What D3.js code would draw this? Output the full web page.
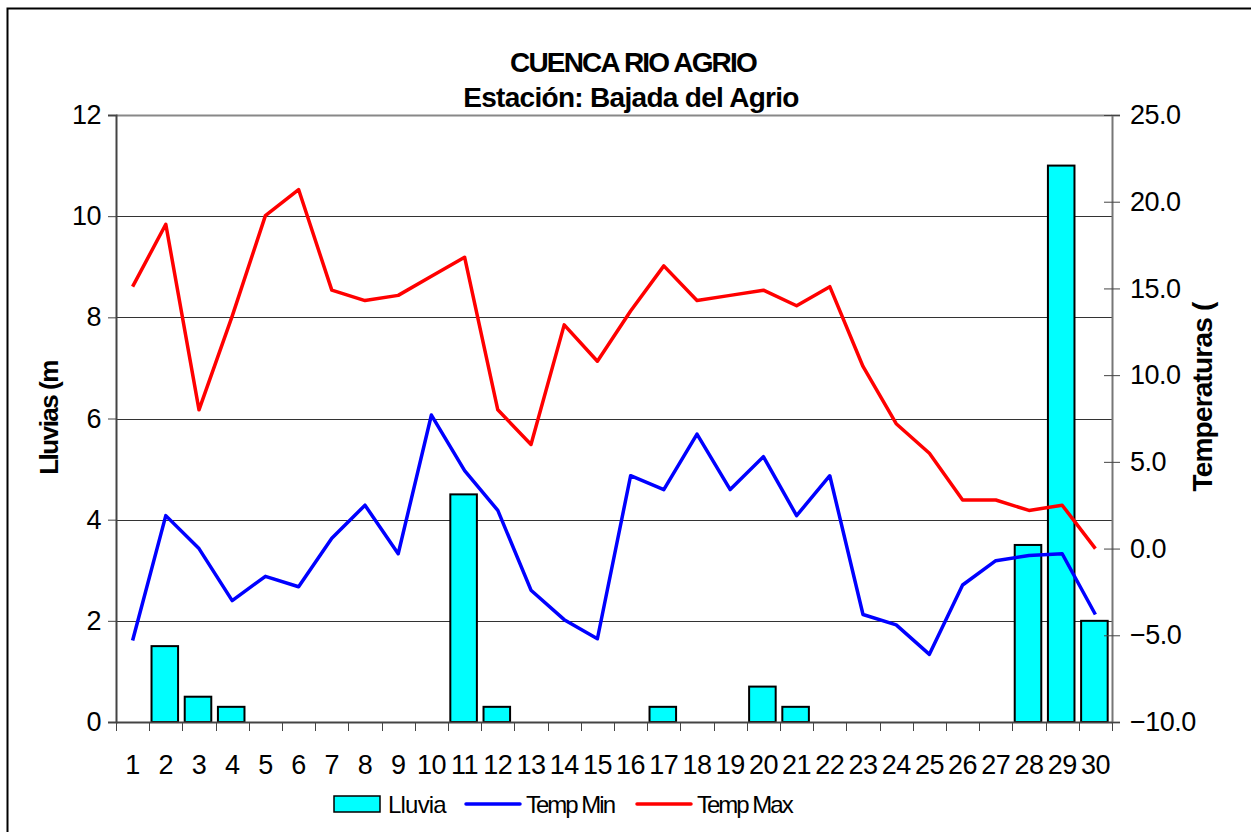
<!DOCTYPE html>
<html>
<head>
<meta charset="utf-8">
<script src="https://cdn.jsdelivr.net/npm/d3@7"></script>
<style>
  body { margin: 0; background: #fff; }
  svg text { font-family: "Liberation Sans", Arial, sans-serif; }
</style>
</head>
<body>
<div id="chart"></div>
<script>
// data
const dias = d3.range(1, 31).map(String);
const lluvia = [0, 1.5, 0.5, 0.3, 0, 0, 0, 0, 0, 0,
  4.5, 0.3, 0, 0, 0, 0, 0.3, 0, 0, 0.7,
  0.3, 0, 0, 0, 0, 0, 0, 3.5, 11, 2];
const tempMin = [-5.3, 1.9, 0.0, -3.0, -1.6, -2.2, 0.6, 2.5, -0.3, 7.7,
  4.5, 2.2, -2.4, -4.1, -5.2, 4.2, 3.4, 6.6, 3.4, 5.3,
  1.9, 4.2, -3.8, -4.4, -6.1, -2.1, -0.7, -0.4, -0.3, -3.8];
const tempMax = [15.1, 18.7, 8.0, 13.4, 19.2, 20.7, 14.9, 14.3, 14.6, 15.7,
  16.8, 8.0, 6.0, 12.9, 10.8, 13.7, 16.3, 14.3, 14.6, 14.9,
  14.0, 15.1, 10.5, 7.2, 5.5, 2.8, 2.8, 2.2, 2.5, 0.0];
const ticksLluvia = [0, 2, 4, 6, 8, 10, 12];
const ticksTemp = [-10, -5, 0, 5, 10, 15, 20, 25];

const W = 1251, H = 832;
const margin = {top: 115, right: 139, bottom: 110, left: 116};
const width = W - margin.left - margin.right,
      height = H - margin.top - margin.bottom;

const svg = d3.select("#chart").append("svg")
  .attr("width", W).attr("height", H);

// outer frame (cut by the page edge like the original)
svg.append("rect")
  .attr("x", 7.5).attr("y", 8.5)
  .attr("width", W).attr("height", H)
  .attr("fill", "none").attr("stroke", "#000").attr("stroke-width", 2);

const g = svg.append("g").attr("transform", `translate(${margin.left},${margin.top})`);

const x = d3.scaleBand().domain(dias).range([0, width]).paddingInner(0).paddingOuter(0);
const yL = d3.scaleLinear().domain([0, 12]).range([height, 0]);
const yR = d3.scaleLinear().domain([-10, 25]).range([height, 0]);

// gridlines
g.append("g").selectAll("line").data(ticksLluvia.slice(1))
  .join("line")
  .attr("x1", 0).attr("x2", width)
  .attr("y1", d => Math.round(yL(d)) + 0.5).attr("y2", d => Math.round(yL(d)) + 0.5)
  .attr("stroke", d => d == 12 ? "#888" : "#333").attr("stroke-width", d => d == 12 ? 2 : 1);

// bars
const bw = x.bandwidth() * 0.8;
g.append("g").selectAll("rect")
  .data(lluvia.map((v, i) => ({dia: dias[i], v})).filter(d => d.v > 0))
  .join("rect")
  .attr("x", d => x(d.dia) + (x.bandwidth() - bw) / 2 - 1)
  .attr("y", d => yL(d.v))
  .attr("width", bw)
  .attr("height", d => height - yL(d.v))
  .attr("fill", "#00ffff").attr("stroke", "#000").attr("stroke-width", 2);

// lines
const line = d3.line()
  .x((d, i) => x(dias[i]) + x.bandwidth() / 2)
  .y(d => yR(d));
g.append("path").datum(tempMin).attr("d", line)
  .attr("fill", "none").attr("stroke", "#0000ff").attr("stroke-width", 3.5)
  .attr("stroke-linejoin", "round");
g.append("path").datum(tempMax).attr("d", line)
  .attr("fill", "none").attr("stroke", "#ff0000").attr("stroke-width", 3.5)
  .attr("stroke-linejoin", "round");

// left axis
const axL = g.append("g")
  .call(d3.axisLeft(yL).tickValues(ticksLluvia).tickSize(8).tickPadding(7));
axL.select(".domain").attr("stroke", "#444").attr("stroke-width", 2);
axL.selectAll(".tick line").attr("stroke", "#444");
axL.selectAll("text").style("font-size", "27px").attr("fill", "#000").attr("letter-spacing", "-0.5px");

// right axis
const axR = g.append("g").attr("transform", `translate(${width},0)`)
  .call(d3.axisRight(yR).tickValues(ticksTemp).tickSize(8).tickPadding(10).tickFormat(d3.format(".1f")));
axR.select(".domain").attr("stroke", "#777").attr("stroke-width", 2);
axR.selectAll(".tick line").attr("x1", -8).attr("stroke", "#444");
axR.selectAll("text").style("font-size", "27px").attr("fill", "#000").attr("letter-spacing", "-0.5px");

// bottom axis
const axB = g.append("g").attr("transform", `translate(0,${height})`)
  .call(d3.axisBottom(x).tickSize(0).tickPadding(33));
axB.select(".domain").attr("stroke", "#444").attr("stroke-width", 2);
axB.selectAll("text").style("font-size", "27px").attr("fill", "#000").attr("letter-spacing", "-0.5px");
axB.append("g").selectAll("line").data(d3.range(0, 31))
  .join("line")
  .attr("x1", i => Math.round(i * x.step()) + 0.5).attr("x2", i => Math.round(i * x.step()) + 0.5)
  .attr("y1", 0).attr("y2", 9).attr("stroke", "#444");

// titles
svg.append("text").attr("x", 633).attr("y", 72).attr("text-anchor", "middle")
  .style("font-size", "28px").style("font-weight", "bold").attr("letter-spacing", "-1.8px")
  .text("CUENCA RIO AGRIO");
svg.append("text").attr("x", 631).attr("y", 107).attr("text-anchor", "middle")
  .style("font-size", "28px").style("font-weight", "bold").attr("letter-spacing", "-0.7px")
  .text("Estación: Bajada del Agrio");

svg.append("text").attr("transform", "translate(58,418) rotate(-90)")
  .attr("text-anchor", "middle")
  .style("font-size", "26px").style("font-weight", "bold").attr("letter-spacing", "-1.5px")
  .text("Lluvias (m");
svg.append("text").attr("transform", "translate(1212,397) rotate(-90)")
  .attr("text-anchor", "middle")
  .style("font-size", "28px").style("font-weight", "bold").attr("letter-spacing", "-0.8px")
  .text("Temperaturas (");

// legend
const leg = svg.append("g").attr("transform", "translate(0,804)");
leg.append("rect").attr("x", 334).attr("y", -8).attr("width", 46).attr("height", 16)
  .attr("fill", "#00ffff").attr("stroke", "#000").attr("stroke-width", 1.5);
leg.append("text").attr("x", 388).attr("y", 9).style("font-size", "24px").attr("letter-spacing", "-0.8px").text("Lluvia");
leg.append("line").attr("x1", 466).attr("x2", 520).attr("y1", 0).attr("y2", 0)
  .attr("stroke", "#0000ff").attr("stroke-width", 3.5).attr("stroke-linecap", "round");
leg.append("text").attr("x", 526).attr("y", 9).style("font-size", "24px").attr("letter-spacing", "-2px").text("Temp Min");
leg.append("line").attr("x1", 637).attr("x2", 691).attr("y1", 0).attr("y2", 0)
  .attr("stroke", "#ff0000").attr("stroke-width", 3.5).attr("stroke-linecap", "round");
leg.append("text").attr("x", 697).attr("y", 9).style("font-size", "24px").attr("letter-spacing", "-2px").text("Temp Max");
</script>
</body>
</html>
